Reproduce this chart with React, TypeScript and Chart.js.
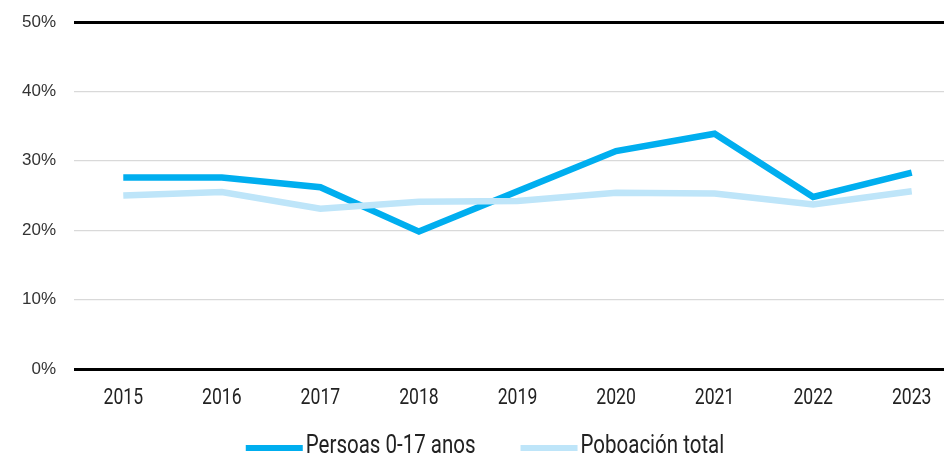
import React, { useEffect, useRef } from "react";
import { Chart, registerables } from "chart.js";

Chart.register(...registerables);

const years = ["2015", "2016", "2017", "2018", "2019", "2020", "2021", "2022", "2023"];
const children = [27.6, 27.6, 26.2, 19.8, 25.6, 31.4, 33.9, 24.8, 28.3];
const total = [25.0, 25.5, 23.1, 24.1, 24.2, 25.4, 25.3, 23.7, 25.6];
const yTicks = [0, 10, 20, 30, 40, 50];
const seriesNames = ["Persoas 0-17 anos", "Poboación total"];

const BLUE = "#00AEEF";
const LIGHT = "#BEE5F9";
const COND = "Roboto, 'DejaVu Sans', sans-serif";
const SQUEEZE = 0.8;

// Draws text horizontally condensed (the reference uses a condensed typeface)
function condensedText(ctx: any, text: string, x: number, y: number, align: "left" | "center", squeeze: number) {
  ctx.save();
  ctx.translate(x, y);
  ctx.scale(squeeze, 1);
  ctx.textAlign = align;
  ctx.textBaseline = "middle";
  ctx.fillText(text, 0, 0);
  ctx.restore();
}

const condensedLabelsPlugin = {
  id: "condensedLabels",
  afterDraw(chart: any) {
    const ctx = chart.ctx;
    const xs = chart.scales.x;
    ctx.save();
    // x tick labels
    ctx.font = `22px ${COND}`;
    ctx.fillStyle = "#222222";
    (chart.data.labels as string[]).forEach((lab, i) => {
      condensedText(ctx, lab, xs.getPixelForTick(i), xs.top + 29, "center", SQUEEZE);
    });
    // legend
    const ds = chart.data.datasets;
    const lsq = 0.82;
    ctx.font = `25px ${COND}`;
    const boxW = 57;
    const boxH = 6;
    const gap = 3;
    const itemGap = 45;
    const widths = ds.map((d: any) => boxW + gap + ctx.measureText(d.label).width * lsq);
    const totalW = widths.reduce((a: number, b: number) => a + b, 0) + itemGap * (ds.length - 1);
    let x = chart.width / 2 - totalW / 2 - 1;
    const yc = 447;
    ds.forEach((d: any, i: number) => {
      ctx.fillStyle = d.borderColor;
      ctx.fillRect(x, yc - boxH / 2 + 1, boxW, boxH);
      ctx.fillStyle = "#222222";
      condensedText(ctx, d.label, x + boxW + gap, yc, "left", lsq);
      x += widths[i] + itemGap;
    });
    ctx.restore();
  },
};

export default function App() {
  const ref = useRef<HTMLCanvasElement | null>(null);

  useEffect(() => {
    if (!ref.current) return;
    const lineStyle = {
      borderWidth: 6.5,
      pointRadius: 0,
      tension: 0,
      borderCapStyle: "butt" as const,
      borderJoinStyle: "miter" as const,
    };
    const chart = new Chart(ref.current, {
      type: "line",
      data: {
        labels: years,
        datasets: [
          { label: seriesNames[0], data: children, borderColor: BLUE, backgroundColor: BLUE, order: 1, ...lineStyle },
          { label: seriesNames[1], data: total, borderColor: LIGHT, backgroundColor: LIGHT, order: 0, ...lineStyle },
        ],
      },
      options: {
        animation: false,
        responsive: false,
        maintainAspectRatio: false,
        layout: { padding: { left: 0, right: 11, top: 22, bottom: 0 } },
        plugins: {
          legend: { display: false },
          tooltip: { enabled: false },
        },
        scales: {
          x: {
            offset: true,
            grid: { display: false, drawTicks: false },
            border: { display: false },
            ticks: { display: false },
            afterFit(scale: any) {
              scale.height = 88;
              scale.paddingLeft = 0;
              scale.paddingRight = 0;
            },
          },
          y: {
            min: 0,
            max: 50,
            afterBuildTicks(scale: any) {
              scale.ticks = yTicks.map((v) => ({ value: v }));
            },
            grid: {
              drawTicks: false,
              color: (c: any) => (c.tick && (c.tick.value === 0 || c.tick.value === 50) ? "#000000" : "#D9D9D9"),
              lineWidth: (c: any) => (c.tick && (c.tick.value === 0 || c.tick.value === 50) ? 3 : 1.3),
            },
            border: { display: false },
            ticks: {
              color: "#333333",
              font: { family: "'Liberation Sans', Arial, sans-serif", size: 17 },
              padding: 18,
              callback: (v: any) => `${v}%`,
            },
            afterFit(scale: any) {
              scale.width = 74;
              scale.paddingTop = 0;
              scale.paddingBottom = 0;
            },
          },
        },
      },
      plugins: [condensedLabelsPlugin],
    });
    return () => chart.destroy();
  }, []);

  return (
    <div style={{ position: "absolute", left: 0, top: 0, width: 944, height: 457, overflow: "hidden", background: "#fff" }}>
      <canvas ref={ref} width={972} height={457} style={{ display: "block", width: 972, height: 457 }} />
    </div>
  );
}
